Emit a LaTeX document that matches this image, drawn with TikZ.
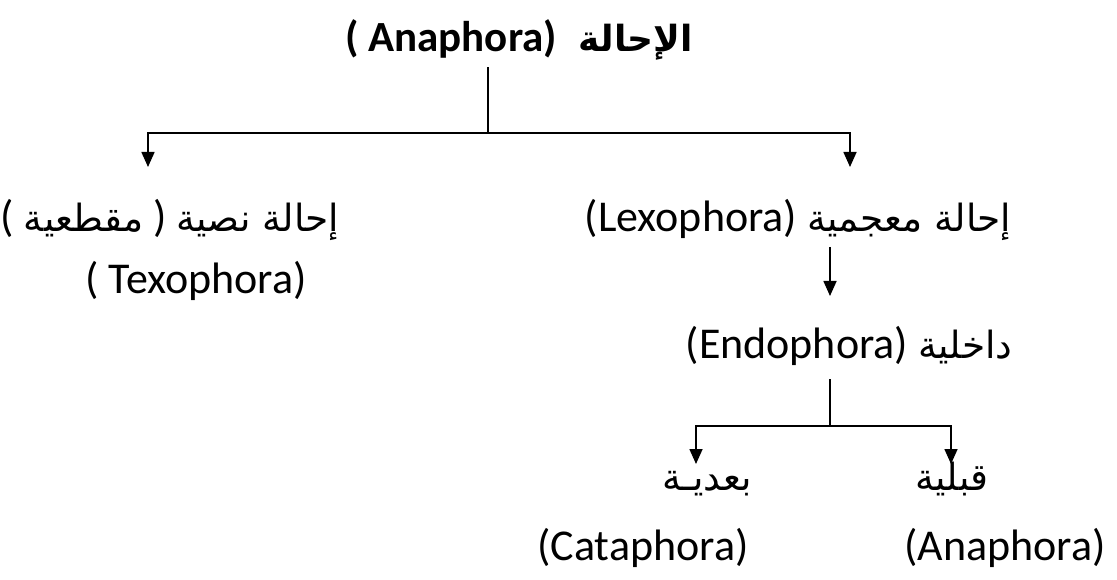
\documentclass[tikz,border=0pt]{standalone}
\usepackage{fontspec}
\setmainfont{Carlito}
\newfontfamily\arabicfont[Script=Arabic]{DejaVu Sans}
\TeXXeTstate=1
\usetikzlibrary{arrows.meta}
% Arabic run at a given size, set right to left
\newcommand\artext[2][37.5]{{\fontsize{#1}{#1}\arabicfont\beginR #2\endR}}
\begin{document}
\begin{tikzpicture}[x=1pt,y=-1pt,
  lbl/.style={font=\fontsize{44}{50}\selectfont, inner sep=0pt, anchor=base},
  ttl/.style={font=\fontsize{43}{48}\selectfont\bfseries, inner sep=0pt, anchor=base},
  link/.style={line width=1.6pt, line cap=rect},
  arr/.style={line width=1.6pt, -{Triangle[width=13pt,length=15pt]}}]
\useasboundingbox (0,0) rectangle (1117,580);

% texts
\node[ttl] (root) at (519,52) {( Anaphora)\hspace{22pt}\artext[36]{الإحالة}};
\node[lbl] (text1) at (170,232) {( \artext{مقطعية} ) \artext{إحالة نصية}};
\node[lbl] (text2) at (196,294) {( Texophora)};
\node[lbl] (lex) at (798,232) {(Lexophora) \artext{إحالة معجمية}};
\node[lbl] (endo) at (849,358) {(Endophora) \artext{داخلية}};
\node[lbl] (bad) at (707,490) {\artext{بعديـة}};
\node[lbl] (qab) at (952,490) {\artext{قبلية}};
\node[lbl] (cata) at (643,560) {(Cataphora)};
\node[lbl] (ana) at (1005,560) {(Anaphora)};

% junctions and arrow ends
\coordinate (j0) at (488,68);
\coordinate (j1) at (488,133);
\coordinate (jl) at (148,133);
\coordinate (jr) at (850,133);
\coordinate (el) at (148,167);
\coordinate (er) at (850,167);
\coordinate (lx) at (830,247);
\coordinate (ex) at (830,296);
\coordinate (k0) at (830,380);
\coordinate (k1) at (830,426);
\coordinate (kl) at (696,426);
\coordinate (kr) at (951,426);
\coordinate (fl) at (696,464);
\coordinate (fr) at (951,464);

% connectors
\draw[link] (j0) -- (j1);
\draw[link] (jl) -- (jr);
\draw[arr] (jl) -- (el);
\draw[arr] (jr) -- (er);
\draw[arr] (lx) -- (ex);
\draw[link] (k0) -- (k1);
\draw[link] (kl) -- (kr);
\draw[arr] (kl) -- (fl);
\draw[arr] (kr) -- (fr);
\end{tikzpicture}
\end{document}
